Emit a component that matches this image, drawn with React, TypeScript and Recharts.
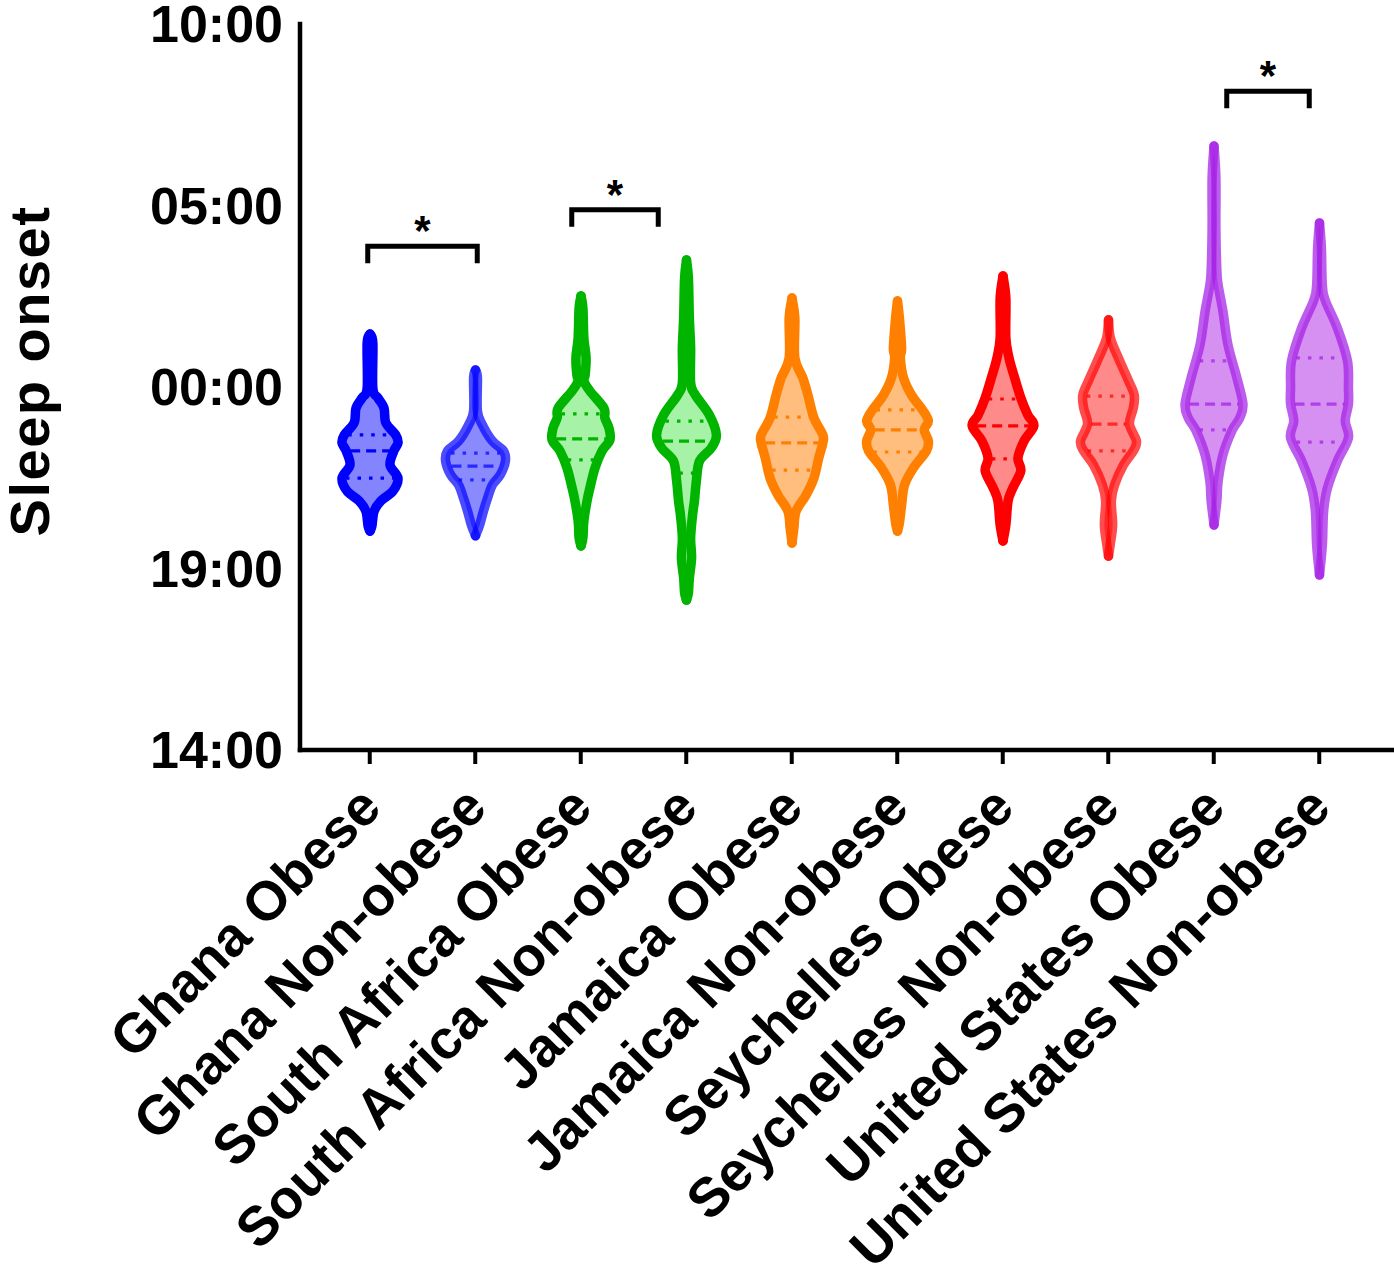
import React from "react";
import { ComposedChart, Bar, XAxis, YAxis, ReferenceLine } from "recharts";

const FONT = '"Liberation Sans", Arial, Helvetica, sans-serif';

const categories = [
  "Ghana Obese",
  "Ghana Non-obese",
  "South Africa Obese",
  "South Africa Non-obese",
  "Jamaica Obese",
  "Jamaica Non-obese",
  "Seychelles Obese",
  "Seychelles Non-obese",
  "United States Obese",
  "United States Non-obese",
];

// y is counted in hours after 14:00 (0 = 14:00, 10 = 00:00, 20 = 10:00 next morning)
const yTicks = [0, 5, 10, 15, 20];
const yTickLabels = ["14:00", "19:00", "00:00", "05:00", "10:00"];

// violin outlines, top to bottom: [hours after 14:00, relative density]
const ghanaObese = [
  [11.46, 0], [11.21, 0.09], [9.97, 0.09], [9.7, 0.25], [9.42, 0.44], [9.01, 0.5],
  [8.68, 0.81], [8.46, 0.88], [8.24, 0.75], [7.85, 0.63], [7.49, 0.88], [7.13, 0.72],
  [6.86, 0.34], [6.58, 0.13], [6.17, 0.06], [6.03, 0],
];
const ghanaNonObese = [
  [10.47, 0], [10.25, 0.06], [9.34, 0.06], [8.95, 0.22], [8.51, 0.53], [8.24, 0.88],
  [7.96, 0.94], [7.58, 0.78], [7.3, 0.53], [6.94, 0.38], [6.58, 0.25], [6.2, 0.13], [5.9, 0],
];
const southAfricaObese = [
  [12.51, 0], [12.18, 0.06], [11.35, 0.09], [10.8, 0.16], [10.33, 0.13], [10.17, 0.09],
  [9.89, 0.28], [9.42, 0.72], [9.15, 0.75], [8.87, 0.88], [8.54, 0.91], [8.24, 0.66],
  [7.77, 0.44], [7.22, 0.28], [6.86, 0.19], [6.31, 0.09], [5.84, 0.06], [5.62, 0],
];
const southAfricaNonObese = [
  [13.5, 0], [13.0, 0.06], [11.9, 0.09], [11.07, 0.13], [10.11, 0.13], [9.78, 0.28],
  [9.23, 0.72], [8.68, 0.94], [8.32, 0.78], [7.96, 0.41], [7.41, 0.31], [6.86, 0.25],
  [6.47, 0.19], [5.84, 0.13], [5.29, 0.16], [4.74, 0.09], [4.33, 0.06], [4.13, 0],
];
const jamaicaObese = [
  [12.45, 0], [11.9, 0.09], [10.8, 0.09], [10.25, 0.34], [9.78, 0.5], [9.15, 0.69],
  [8.68, 0.97], [8.46, 0.97], [8.04, 0.84], [7.49, 0.69], [7.02, 0.44], [6.58, 0.13],
  [6.12, 0.06], [5.7, 0],
];
const jamaicaNonObese = [
  [12.37, 0], [11.9, 0.06], [11.07, 0.13], [10.8, 0.09], [10.25, 0.19], [9.78, 0.44],
  [9.34, 0.81], [9.06, 0.97], [8.82, 0.84], [8.51, 0.97], [8.24, 0.91], [7.77, 0.5],
  [7.3, 0.22], [6.75, 0.13], [6.25, 0.06], [6.03, 0],
];
const seychellesObese = [
  [13.06, 0], [12.45, 0.09], [11.35, 0.09], [10.8, 0.19], [10.33, 0.34], [9.7, 0.56],
  [9.23, 0.78], [8.93, 0.97], [8.51, 0.66], [8.04, 0.47], [7.69, 0.56], [7.22, 0.31],
  [6.86, 0.16], [6.2, 0.09], [5.76, 0],
];
const seychellesNonObese = [
  [11.85, 0], [11.35, 0.06], [10.8, 0.31], [10.17, 0.63], [9.78, 0.81], [9.42, 0.78],
  [8.98, 0.66], [8.51, 0.88], [8.24, 0.78], [7.85, 0.47], [7.3, 0.19], [6.86, 0.09],
  [6.2, 0.13], [5.7, 0.06], [5.34, 0],
];
const unitedStatesObese = [
  [16.64, 0], [15.76, 0.06], [14.38, 0.06], [13.2, 0.09], [12.81, 0.13], [12.09, 0.28],
  [11.16, 0.44], [10.25, 0.72], [9.53, 0.91], [9.15, 0.81], [8.79, 0.56], [8.13, 0.28],
  [7.41, 0.13], [6.86, 0.09], [6.2, 0],
];
const unitedStatesNonObese = [
  [14.52, 0], [13.83, 0.06], [12.81, 0.09], [12.37, 0.19], [11.63, 0.56], [10.72, 0.88],
  [9.97, 0.91], [9.53, 0.91], [9.06, 0.81], [8.6, 0.91], [7.96, 0.56], [7.22, 0.25],
  [6.58, 0.13], [5.65, 0.09], [4.82, 0],
];

const profiles = [
  ghanaObese, ghanaNonObese, southAfricaObese, southAfricaNonObese, jamaicaObese,
  jamaicaNonObese, seychellesObese, seychellesNonObese, unitedStatesObese, unitedStatesNonObese,
];

const medians = [8.24, 7.82, 8.57, 8.51, 8.46, 8.82, 8.93, 8.98, 9.53, 9.53];
const upperQuartiles = [8.68, 8.18, 9.26, 9.06, 9.17, 9.37, 9.67, 9.75, 10.72, 10.8];
const lowerQuartiles = [7.49, 7.44, 7.99, 7.63, 7.71, 8.21, 8.02, 8.24, 8.82, 8.48];

const strokeColors = [
  "#0000ff", "#0000ff", "#00b400", "#00b400", "#ff8000",
  "#ff8000", "#ff0000", "#ff0000", "#a41ee6", "#a41ee6",
];
const fillColors = [
  "#8484ff", "#8a8aff", "#a6f2a6", "#a6f2a6", "#ffbd7e",
  "#ffbd7e", "#ff8a8a", "#ff8a8a", "#d690f2", "#d690f2",
];
const strokeOpacities = [1, 0.7, 1, 1, 1, 1, 1, 0.7, 0.72, 0.72];

// significance brackets between neighbouring groups
const brackets = [
  { from: "Ghana Obese", to: "Ghana Non-obese", level: 13.88, mark: "*" },
  { from: "South Africa Obese", to: "South Africa Non-obese", level: 14.88, mark: "*" },
  { from: "United States Obese", to: "United States Non-obese", level: 18.15, mark: "*" },
];

const rows = categories.map((name, i) => {
  const vals = profiles[i].map((p) => p[0]);
  return {
    name,
    range: [Math.min(...vals), Math.max(...vals)],
    profile: profiles[i],
    median: medians[i],
    q1: lowerQuartiles[i],
    q3: upperQuartiles[i],
    stroke: strokeColors[i],
    fill: fillColors[i],
    opacity: strokeOpacities[i],
  };
});

type Pt = [number, number];

function smoothPath(pts: Pt[], move = true) {
  let d = `${move ? "M" : "L"}${pts[0][0]},${pts[0][1]}`;
  for (let i = 0; i < pts.length - 1; i++) {
    const p0 = pts[i - 1] || pts[i];
    const p1 = pts[i];
    const p2 = pts[i + 1];
    const p3 = pts[i + 2] || p2;
    const c1 = [p1[0] + (p2[0] - p0[0]) / 6, p1[1] + (p2[1] - p0[1]) / 6];
    const c2 = [p2[0] - (p3[0] - p1[0]) / 6, p2[1] - (p3[1] - p1[1]) / 6];
    d += ` C${c1[0]},${c1[1]} ${c2[0]},${c2[1]} ${p2[0]},${p2[1]}`;
  }
  return d;
}

function densityAt(profile: number[][], v: number) {
  for (let k = 0; k < profile.length - 1; k++) {
    const [v0, d0] = profile[k];
    const [v1, d1] = profile[k + 1];
    if (v <= v0 && v >= v1) return d0 + ((d1 - d0) * (v0 - v)) / (v0 - v1);
  }
  return 0;
}

function Violin(props: any) {
  const { x, y, width, height, payload } = props;
  if (!payload) return null;
  const top = Math.min(y, y + height);
  const h = Math.abs(height);
  const [lo, hi] = payload.range;
  const py = (v: number) => top + ((hi - v) / (hi - lo)) * h;
  const cx = x + width / 2;
  const scale = width * 0.3;
  const right: Pt[] = payload.profile.map(([v, d]: number[]) => [cx + d * scale, py(v)]);
  const left: Pt[] = payload.profile.map(([v, d]: number[]) => [cx - d * scale, py(v)]);
  const outline = `${smoothPath(right)} ${smoothPath([...left].reverse(), false)} Z`;
  const sw = 9.5;

  const level = (v: number, dash: string, key: string) => {
    const hw = Math.max(densityAt(payload.profile, v) * scale - 4, 0);
    return (
      <line
        key={key}
        x1={cx - hw}
        x2={cx + hw}
        y1={py(v)}
        y2={py(v)}
        stroke={payload.stroke}
        strokeOpacity={payload.opacity}
        strokeWidth={3.2}
        strokeDasharray={dash}
      />
    );
  };

  return (
    <g>
      <path d={outline} fill={payload.fill} stroke="none" />
      <path
        d={smoothPath(right)}
        fill="none"
        stroke={payload.stroke}
        strokeOpacity={payload.opacity}
        strokeWidth={sw}
        strokeLinecap="round"
        strokeLinejoin="round"
      />
      <path
        d={smoothPath(left)}
        fill="none"
        stroke={payload.stroke}
        strokeOpacity={payload.opacity}
        strokeWidth={sw}
        strokeLinecap="round"
        strokeLinejoin="round"
      />
      {level(payload.median, "10 6", "median")}
      {level(payload.q3, "3.5 8", "q3")}
      {level(payload.q1, "3.5 8", "q1")}
    </g>
  );
}

// small horizontal nudges for the bracket ends, in px
const bracketNudges = [
  [-2, 2],
  [-9, -28],
  [13, -10],
];

function Bracket(props: any) {
  const { x1, y1, x2, y2, mark, nudge } = props;
  if (x1 == null) return null;
  const a = x1 + nudge[0];
  const b = x2 + nudge[1];
  const drop = 17;
  return (
    <g>
      <path
        d={`M${a},${y1 + drop} L${a},${y1} L${b},${y2} L${b},${y2 + drop}`}
        fill="none"
        stroke="#000"
        strokeWidth={5}
        strokeLinejoin="miter"
      />
      <text
        x={(a + b) / 2}
        y={y1 - 1}
        textAnchor="middle"
        fontSize={42}
        fontWeight="bold"
        fontFamily={FONT}
        fill="#000"
      >
        {mark}
      </text>
    </g>
  );
}

function CategoryTick(props: any) {
  const { x, y, payload } = props;
  const tx = x + 14;
  const ty = y + 44;
  return (
    <text
      x={tx}
      y={ty}
      transform={`rotate(-45, ${tx}, ${ty})`}
      textAnchor="end"
      fontSize={55}
      fontWeight="bold"
      fontFamily={FONT}
      fill="#000"
    >
      {payload.value}
    </text>
  );
}

function AxisTitle(props: any) {
  const vb = props.viewBox || { x: 0, y: 24, width: 300, height: 726 };
  const tx = vb.x + 49;
  const ty = vb.y + vb.height / 2 - 16;
  return (
    <text
      x={tx}
      y={ty}
      transform={`rotate(-90, ${tx}, ${ty})`}
      textAnchor="middle"
      fontSize={56}
      fontWeight="bold"
      fontFamily={FONT}
      letterSpacing={1.5}
      fill="#000"
    >
      Sleep onset
    </text>
  );
}

export default function App() {
  return (
    <div style={{ position: "absolute", left: 0, top: 0, background: "#fff" }}>
      <ComposedChart
        width={1394}
        height={1268}
        data={rows}
        margin={{ top: 24, right: 0, bottom: 0, left: 0 }}
        barCategoryGap={0}
      >
        <XAxis
          dataKey="name"
          type="category"
          interval={0}
          height={518}
          padding={{ left: 17, right: 22 }}
          axisLine={{ stroke: "#000", strokeWidth: 4.5, strokeLinecap: "square" }}
          tickLine={{ stroke: "#000", strokeWidth: 4 }}
          tickSize={14}
          tick={<CategoryTick />}
        />
        <YAxis
          type="number"
          domain={[0, 20]}
          ticks={yTicks}
          interval={0}
          width={300}
          axisLine={{ stroke: "#000", strokeWidth: 4.5, strokeLinecap: "square" }}
          tickLine={false}
          tickSize={0}
          tickMargin={17}
          tickFormatter={(v: number) => yTickLabels[yTicks.indexOf(v)]}
          tick={{ fontSize: 52, fontWeight: "bold", fill: "#000", fontFamily: FONT }}
          label={{ content: <AxisTitle /> }}
        />
        <Bar dataKey="range" shape={<Violin />} isAnimationActive={false} />
        {brackets.map((b, i) => (
          <ReferenceLine
            key={b.from}
            segment={[
              { x: b.from, y: b.level },
              { x: b.to, y: b.level },
            ]}
            shape={(p: any) => <Bracket {...p} mark={b.mark} nudge={bracketNudges[i]} />}
          />
        ))}
      </ComposedChart>
    </div>
  );
}
